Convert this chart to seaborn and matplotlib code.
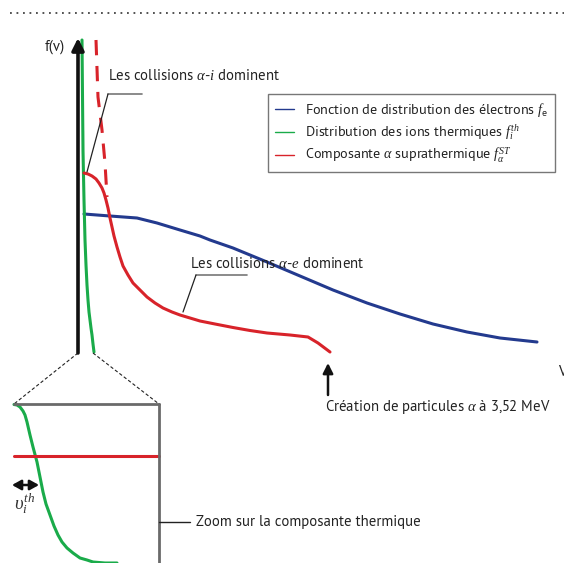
import matplotlib
matplotlib.use("Agg")
import matplotlib.pyplot as plt
import matplotlib.font_manager as fm
import seaborn as sns

sns.set_theme(style="white")
_avail = set(f.name for f in fm.fontManager.ttflist)
_prefs = ['Myriad Pro', 'PT Sans', 'Source Sans Pro', 'Fira Sans', 'Liberation Sans']
FONT = next((p for p in _prefs if p in _avail), 'DejaVu Sans')
plt.rcParams['font.family'] = [FONT, 'DejaVu Sans']
plt.rcParams['mathtext.fontset'] = 'custom'
plt.rcParams['mathtext.rm'] = FONT
plt.rcParams['mathtext.it'] = 'Liberation Serif:italic'

# ---- data (schematic units) ----
green_v = [4, 5, 5, 6, 7, 8, 9, 10, 11, 12, 13, 14, 15, 16]
green_f = [312, 222, 180, 152, 112, 87, 67, 52, 40, 32, 24, 17, 8, 0]

blue_v = [6, 32, 59, 79, 102, 122, 132, 155, 189, 222, 255, 289, 322, 355, 389, 422, 459]
blue_f = [138, 136, 134, 129, 122, 116, 112, 104, 90, 76, 62, 49, 38, 28, 20, 14, 10]

red_v = [6, 10, 14, 18, 21, 24, 26, 28, 30, 32, 34, 36, 39, 42, 45, 50, 55, 62, 69, 77,
         85, 94, 102, 112, 122, 137, 155, 172, 189, 212, 230, 240, 252]
red_f = [179, 178, 176, 173, 169, 164, 159, 152, 144, 134, 125, 116, 105, 95, 86, 77, 69, 62, 55, 49,
         44, 40, 37, 34, 31, 28, 24.5, 21.5, 19, 17, 15, 9, 0]

redd_v = [18, 20, 24, 27, 29]
redd_f = [312, 255, 222, 189, 155]

zoom_green_u = [0, 3, 6, 9, 11, 13, 16, 19, 23, 26, 29, 32, 36, 40, 44, 48, 53, 59, 66, 73, 79, 91, 103]
zoom_green_g = [158.5, 158, 156, 152, 148, 141, 128, 116, 101, 86, 71, 59, 48, 37, 28, 21, 15, 10, 5, 3, 1, 0, 0]
zoom_red_u = [0, 145]
zoom_red_g = [107, 107]

labels = ["Fonction de distribution des électrons $f_\\mathrm{e}$",
          "Distribution des ions thermiques $f_i^{th}$",
          "Composante $\\alpha$ suprathermique $f_\\alpha^{ST}$"]

BLUE = '#233a8e'
GREEN = '#1aab4a'
RED = '#d8232a'
FS = 10.6
FS_LEG = 10.2

W, H = 564, 563
fig = plt.figure(figsize=(W / 100, H / 100), dpi=100)

def fx(px):
    return px / W

def fy(py):
    return (H - py) / H

# main axes: origin at pixel (78,352)
ax = fig.add_axes([fx(78), fy(352), (562 - 78) / W, (352 - 40) / H])
ax.set_xlim(0, 484)
ax.set_ylim(0, 312)
ax.axis('off')

sns.lineplot(x=blue_v, y=blue_f, ax=ax, color=BLUE, lw=2.2, sort=False, label=labels[0])
sns.lineplot(x=green_v, y=green_f, ax=ax, color=GREEN, lw=2.2, sort=False, label=labels[1])
sns.lineplot(x=red_v, y=red_f, ax=ax, color=RED, lw=2.2, sort=False, label=labels[2])
sns.lineplot(x=redd_v, y=redd_f, ax=ax, color=RED, lw=2.2, sort=False)
ax.lines[-1].set_dashes([5, 3.5])
for ln in ax.lines:
    ln.set_clip_on(False)
    ln.set_solid_joinstyle('round')

leg = ax.legend(loc='upper left', bbox_to_anchor=(fx(268), fy(94)),
                bbox_transform=fig.transFigure, fontsize=FS_LEG, frameon=True,
                fancybox=False, handlelength=1.35, handletextpad=0.75,
                labelspacing=0.26, borderpad=0.48, borderaxespad=0)
leg.get_frame().set_edgecolor('#555555')
leg.get_frame().set_linewidth(1.0)
for ln in leg.get_lines():
    ln.set_linewidth(1.0)
for t in leg.get_texts():
    t.set_color('#222222')

# zoom inset
axz = fig.add_axes([fx(14), 0, 145 / W, (563 - 404) / H])
axz.set_xlim(0, 145)
axz.set_ylim(0, 159)
axz.axis('off')
sns.lineplot(x=zoom_green_u, y=zoom_green_g, ax=axz, color=GREEN, lw=2.2, sort=False)
sns.lineplot(x=zoom_red_u, y=zoom_red_g, ax=axz, color=RED, lw=2.2, sort=False)
for ln in axz.lines:
    ln.set_clip_on(False)

# decoration layer in pixel coordinates
deco = fig.add_axes([0, 0, 1, 1], zorder=5)
deco.set_xlim(0, W)
deco.set_ylim(H, 0)
deco.axis('off')
deco.patch.set_alpha(0)

TXT = '#222222'
deco.plot([10, 564], [13, 13], color='#444444', lw=1.3, ls=(0, (1, 2.6)))

# axes arrows
deco.annotate('', xy=(78, 38), xytext=(78, 353),
              arrowprops=dict(arrowstyle='-|>,head_width=0.3,head_length=0.6', color='#111111', lw=2.6, shrinkA=0, shrinkB=0))
deco.annotate('', xy=(566, 352), xytext=(77, 352),
              arrowprops=dict(arrowstyle='-|>,head_width=0.3,head_length=0.6', color='#111111', lw=2.6, shrinkA=0, shrinkB=0))
deco.text(45, 47, 'f(v)', fontsize=FS, color=TXT, va='center', ha='left')
deco.text(558, 372, 'V', fontsize=FS, color=TXT, va='center', ha='left')

# annotation alpha-i
deco.text(108, 76, 'Les collisions $\\alpha$-$i$ dominent', fontsize=FS, color=TXT, va='center', ha='left')
deco.plot([142, 108], [94, 94], color='#777777', lw=1.2)
deco.plot([108, 87], [94, 172], color='#222222', lw=0.9)

# annotation alpha-e
deco.text(190, 264, 'Les collisions $\\alpha$-$e$ dominent', fontsize=FS, color=TXT, va='center', ha='left')
deco.plot([247, 196], [275, 275], color='#777777', lw=1.2)
deco.plot([196, 183], [275, 312], color='#222222', lw=0.9)

# creation arrow
deco.annotate('', xy=(328, 363), xytext=(328, 395),
              arrowprops=dict(arrowstyle='-|>,head_width=0.25,head_length=0.5', color='#111111', lw=1.8, shrinkA=0, shrinkB=0))
deco.text(325, 407, 'Création de particules $\\alpha$ à 3,52 MeV', fontsize=FS, color=TXT, va='center', ha='left')

# zoom lines
deco.plot([78, 14], [353, 404], color='#222222', lw=0.8, ls=(0, (3, 2)))
deco.plot([93, 159], [353, 404], color='#222222', lw=0.8, ls=(0, (3, 2)))
deco.plot([14, 159], [404, 404], color='#6a6a6a', lw=2)
deco.plot([159, 159], [404, 564], color='#6a6a6a', lw=2)

deco.annotate('', xy=(12, 485), xytext=(39, 485),
              arrowprops=dict(arrowstyle='<|-|>,head_width=0.25,head_length=0.45', color='#111111', lw=1.8, shrinkA=0, shrinkB=0))
deco.text(25, 504, r'$\upsilon_i^{th}$', fontsize=13.5, color='#333333', va='center', ha='center')

deco.plot([159, 190], [522, 522], color='#222222', lw=1)
deco.text(196, 522, 'Zoom sur la composante thermique', fontsize=FS, color=TXT, va='center', ha='left')

fig.savefig('out.png', dpi=100)
